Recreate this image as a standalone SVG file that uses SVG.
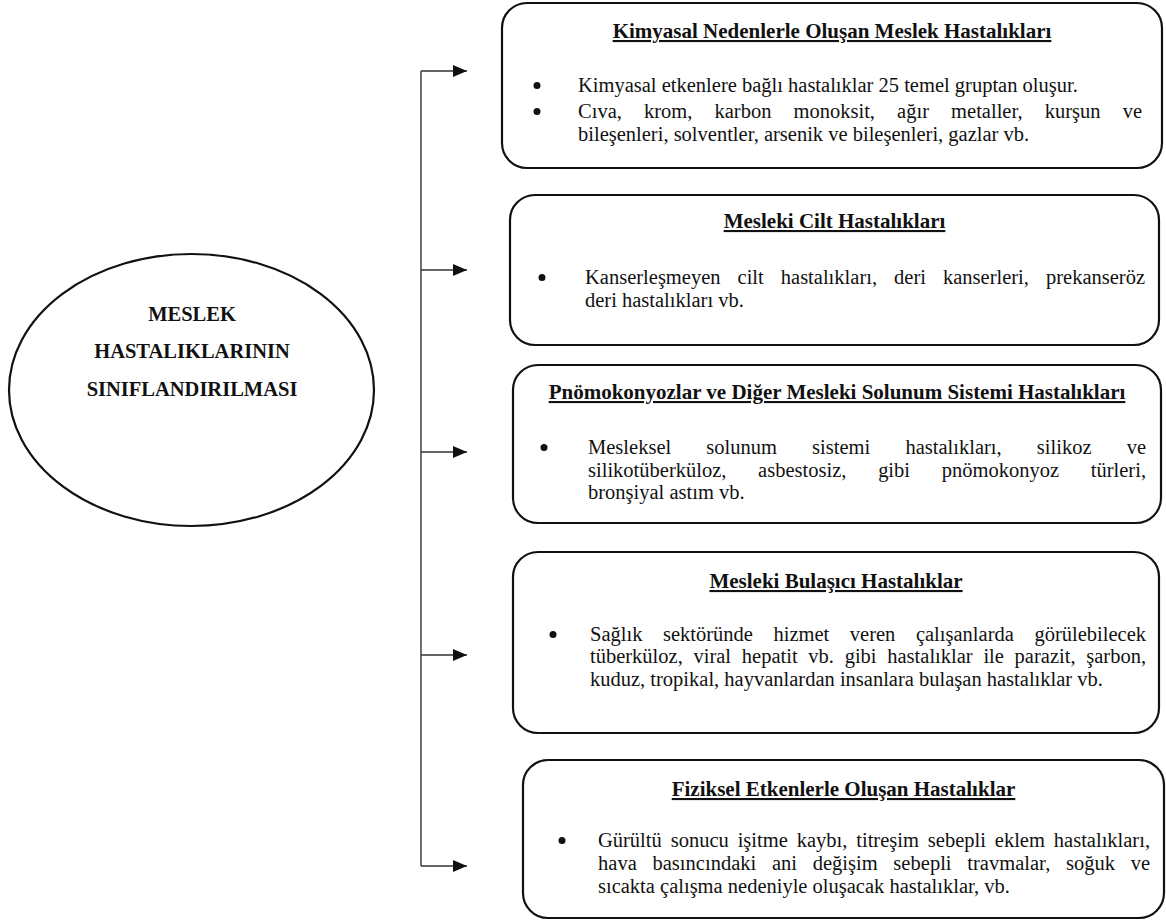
<svg xmlns="http://www.w3.org/2000/svg" width="1166" height="922" viewBox="0 0 1166 922">
<style>
.bg{fill:#ffffff}
.box{fill:#ffffff;stroke:#111;stroke-width:2.2}
.ell{fill:#ffffff;stroke:#111;stroke-width:2.2}
.t{font-family:"Liberation Serif","Times New Roman",serif;font-size:20.5px;fill:#111}
.h{font-weight:bold;font-size:21px;text-decoration:underline;text-anchor:middle}
.c{font-weight:bold;text-anchor:middle}
.dot{fill:#111}
.con{fill:none;stroke:#333;stroke-width:1.4}
</style>
<defs>
<marker id="arr" viewBox="0 0 14 12" refX="14" refY="6" markerWidth="14" markerHeight="12" markerUnits="userSpaceOnUse" orient="auto">
<path d="M0,0 L14,6 L0,12 z" fill="#111"/>
</marker>
</defs>
<rect class="bg" x="0" y="0" width="1166" height="922"/>

<g id="connectors">
<path class="con" d="M421,71 V866"/>
<path class="con" d="M421,71 H467" marker-end="url(#arr)"/>
<path class="con" d="M421,270 H467" marker-end="url(#arr)"/>
<path class="con" d="M421,452 H467" marker-end="url(#arr)"/>
<path class="con" d="M421,655 H467" marker-end="url(#arr)"/>
<path class="con" d="M421,866 H467" marker-end="url(#arr)"/>
</g>

<g id="root">
<ellipse class="ell" cx="191.5" cy="390" rx="182.5" ry="136"/>
<text class="t c" x="192" y="321">MESLEK</text>
<text class="t c" x="192" y="358">HASTALIKLARININ</text>
<text class="t c" x="192" y="396">SINIFLANDIRILMASI</text>
</g>

<g id="kimyasal">
<rect class="box" x="502" y="3" width="660" height="165" rx="25"/>
<text class="t h" x="832" y="38">Kimyasal Nedenlerle Oluşan Meslek Hastalıkları</text>
<circle class="dot" cx="537" cy="85.5" r="3.5"/>
<text class="t" x="578" y="92">Kimyasal etkenlere bağlı hastalıklar 25 temel gruptan oluşur.</text>
<circle class="dot" cx="537" cy="111.5" r="3.5"/>
<text class="t" x="578" y="118" word-spacing="17" textLength="564" lengthAdjust="spacing">Cıva, krom, karbon monoksit, ağır metaller, kurşun ve</text>
<text class="t" x="578" y="141">bileşenleri, solventler, arsenik ve bileşenleri, gazlar vb.</text>
</g>

<g id="cilt">
<rect class="box" x="510" y="195" width="649" height="150" rx="25"/>
<text class="t h" x="834.5" y="228">Mesleki Cilt Hastalıkları</text>
<circle class="dot" cx="542" cy="277.5" r="3.5"/>
<text class="t" x="585" y="284" word-spacing="11.9" textLength="560" lengthAdjust="spacing">Kanserleşmeyen cilt hastalıkları, deri kanserleri, prekanseröz</text>
<text class="t" x="585" y="307">deri hastalıkları vb.</text>
</g>

<g id="solunum">
<rect class="box" x="513" y="365" width="648" height="158" rx="25"/>
<text class="t h" x="837" y="399">Pnömokonyozlar ve Diğer Mesleki Solunum Sistemi Hastalıkları</text>
<circle class="dot" cx="544" cy="447.5" r="3.5"/>
<text class="t" x="588" y="454" word-spacing="30" textLength="558" lengthAdjust="spacing">Mesleksel solunum sistemi hastalıkları, silikoz ve</text>
<text class="t" x="588" y="477" word-spacing="26.6" textLength="558" lengthAdjust="spacing">silikotüberküloz, asbestosiz, gibi pnömokonyoz türleri,</text>
<text class="t" x="588" y="499">bronşiyal astım vb.</text>
</g>

<g id="bulasici">
<rect class="box" x="513" y="552" width="646" height="181" rx="25"/>
<text class="t h" x="836" y="588">Mesleki Bulaşıcı Hastalıklar</text>
<circle class="dot" cx="553" cy="634.5" r="3.5"/>
<text class="t" x="590" y="641" word-spacing="15.4" textLength="556" lengthAdjust="spacing">Sağlık sektöründe hizmet veren çalışanlarda görülebilecek</text>
<text class="t" x="590" y="663" word-spacing="5.6" textLength="556" lengthAdjust="spacing">tüberküloz, viral hepatit vb. gibi hastalıklar ile parazit, şarbon,</text>
<text class="t" x="590" y="686">kuduz, tropikal, hayvanlardan insanlara bulaşan hastalıklar vb.</text>
</g>

<g id="fiziksel">
<rect class="box" x="523" y="760" width="641" height="158" rx="25"/>
<text class="t h" x="843.5" y="796">Fiziksel Etkenlerle Oluşan Hastalıklar</text>
<circle class="dot" cx="562" cy="840.5" r="3.5"/>
<text class="t" x="598" y="847" word-spacing="3.8" textLength="552" lengthAdjust="spacing">Gürültü sonucu işitme kaybı, titreşim sebepli eklem hastalıkları,</text>
<text class="t" x="598" y="870" word-spacing="10.5" textLength="552" lengthAdjust="spacing">hava basıncındaki ani değişim sebepli travmalar, soğuk ve</text>
<text class="t" x="598" y="893">sıcakta çalışma nedeniyle oluşacak hastalıklar, vb.</text>
</g>
</svg>
